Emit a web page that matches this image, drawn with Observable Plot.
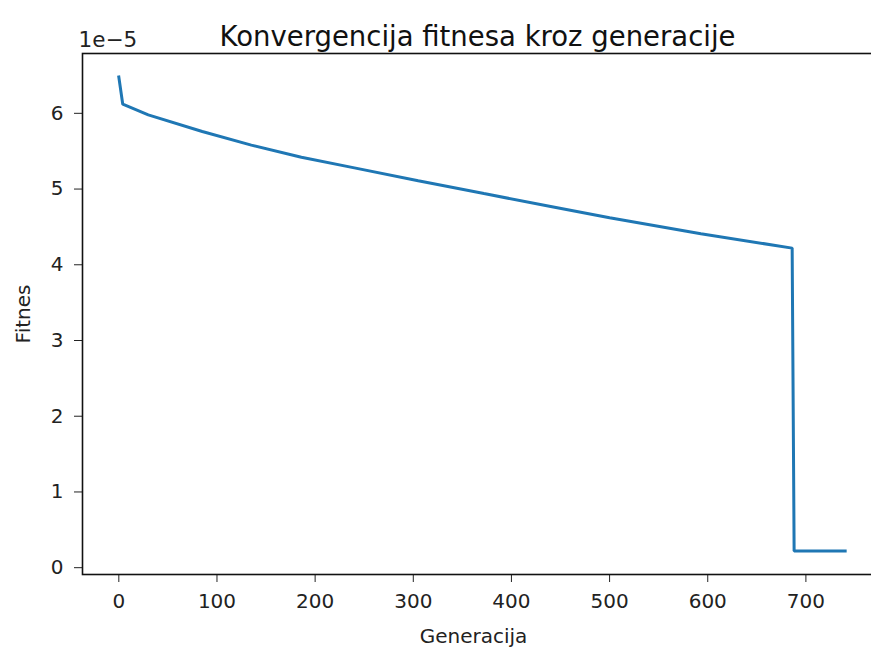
<!DOCTYPE html>
<html>
<head>
<meta charset="utf-8">
<script src="https://cdn.jsdelivr.net/npm/d3@7"></script>
<script src="https://cdn.jsdelivr.net/npm/@observablehq/plot@0.6"></script>
<style>
  html, body { margin: 0; padding: 0; background: #fff; overflow: hidden; width: 871px; height: 651px; }
  #chart { width: 871px; height: 651px; overflow: hidden; }
  #chart svg { display: block; max-width: none !important; width: 900px !important; height: 651px !important; }
</style>
</head>
<body>
<div id="chart"></div>
<script>
// Generation numbers and fitness values
const generations = [0, 4, 30, 85, 135, 186, 240, 305, 372, 440, 500, 593, 686, 688, 740];
const fitness = [6.48e-5, 6.12e-5, 5.98e-5, 5.76e-5, 5.58e-5, 5.42e-5, 5.28e-5, 5.11e-5, 4.94e-5, 4.77e-5, 4.62e-5, 4.41e-5, 4.22e-5, 0.22e-5, 0.22e-5];
const xTicks = [0, 100, 200, 300, 400, 500, 600, 700];
const yTicks = [0, 1e-5, 2e-5, 3e-5, 4e-5, 5e-5, 6e-5];
const titleText = "Konvergencija fitnesa kroz generacije";
const xLabel = "Generacija";
const yLabel = "Fitnes";
const offsetText = "1e\u22125";

const data = generations.map((g, i) => ({gen: g, fit: fitness[i]}));

const chart = Plot.plot({
  width: 900,
  height: 651,
  marginLeft: 82,
  marginRight: 20,
  marginTop: 53,
  marginBottom: 77,
  style: {fontFamily: "DejaVu Sans", color: "#222", background: "#fff", maxWidth: "none"},
  x: {domain: [-37, 776], label: null},
  y: {domain: [-0.09e-5, 6.79e-5], label: null},
  marks: [
    Plot.axisX({ticks: xTicks, tickSize: 8, tickPadding: 11, fontSize: 20, tickFormat: d => String(d), label: null, stroke: "#222"}),
    Plot.axisY({ticks: yTicks, tickSize: 8, tickPadding: 11, fontSize: 20, tickFormat: d => String(Math.round(d * 1e5)), label: null, stroke: "#222"}),
    Plot.line(data, {x: "gen", y: "fit", stroke: "#1f77b4", strokeWidth: 3, strokeLinejoin: "miter", strokeLinecap: "square"}),
    Plot.frame({stroke: "#111", strokeWidth: 1.6}),
    Plot.text([titleText], {frameAnchor: "top", textAnchor: "middle", lineAnchor: "bottom", dy: -8, dx: -4, fontSize: 27.5, fill: "#111"}),
    Plot.text([offsetText], {frameAnchor: "top-left", textAnchor: "start", lineAnchor: "bottom", dx: -4, dy: -7, fontSize: 21.5, fill: "#222"}),
    Plot.text([xLabel], {frameAnchor: "bottom", textAnchor: "middle", lineAnchor: "bottom", dy: 68, dx: -8, fontSize: 20, fill: "#222"}),
    Plot.text([yLabel], {frameAnchor: "left", textAnchor: "middle", rotate: -90, dx: -59, fontSize: 20, fill: "#222"})
  ]
});
document.getElementById("chart").appendChild(chart);
</script>
</body>
</html>
